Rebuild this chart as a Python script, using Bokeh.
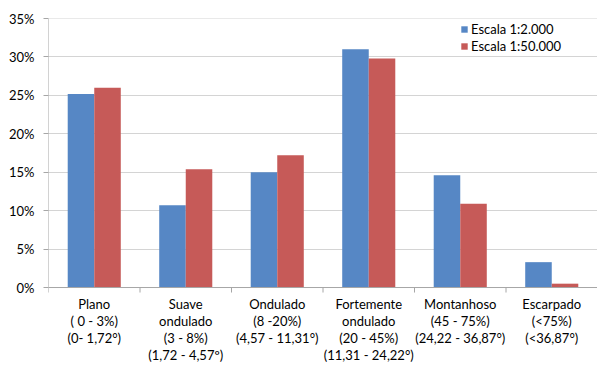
import math
from bokeh.plotting import figure
from bokeh.models import (ColumnDataSource, FixedTicker, NumeralTickFormatter,
                          Legend, LegendItem, Range1d, Label)
from bokeh.embed import file_html
from bokeh.resources import INLINE

# Slope classes and share of area per map scale
categories = ["Plano", "Suave ondulado", "Ondulado", "Fortemente ondulado",
              "Montanhoso", "Escarpado"]
tick_labels = [
    "Plano\n( 0 - 3%)\n(0- 1,72°)",
    "Suave\nondulado\n(3 - 8%)\n(1,72 - 4,57º)",
    "Ondulado\n(8 -20%)\n(4,57 - 11,31°)",
    "Fortemente\nondulado\n(20 - 45%)\n(11,31 - 24,22°)",
    "Montanhoso\n(45 - 75%)\n(24,22 - 36,87°)",
    "Escarpado\n(<75%)\n(<36,87°)",
]
y_ticks = [0.0, 0.05, 0.10, 0.15, 0.20, 0.25, 0.30, 0.35]
series_names = ["Escala 1:2.000", "Escala 1:50.000"]
escala_2000 = [0.252, 0.107, 0.150, 0.310, 0.146, 0.033]
escala_50000 = [0.260, 0.154, 0.172, 0.298, 0.109, 0.005]

BLUE = "#5687C5"
RED = "#C65A58"
AXIS = "#a6a6a6"
FONT = "Lato"

W, H = 597, 365
TOP, BOTTOM_BAND, LEFT = 18, 78, 48
Y_MAX = 0.35
# the frame runs down to the bottom of the canvas; the band below zero
# holds the category texts
plot_px = H - TOP - BOTTOM_BAND
y_min = -BOTTOM_BAND * Y_MAX / plot_px

centers = [i + 0.5 for i in range(len(categories))]
bounds = list(range(len(categories) + 1))
source = ColumnDataSource(dict(
    x1=[c - 0.145 for c in centers],
    x2=[c + 0.145 for c in centers],
    a=escala_2000,
    b=escala_50000,
))

p = figure(width=W, height=H, output_backend="svg", toolbar_location=None,
           x_range=Range1d(0, len(categories)),
           y_range=Range1d(y_min, Y_MAX + 0.0001),
           min_border_left=LEFT, min_border_right=0, min_border_top=TOP,
           min_border_bottom=0)
p.outline_line_color = None
p.background_fill_color = "white"
p.border_fill_color = "white"

# horizontal gridlines
p.ygrid.ticker = FixedTicker(ticks=y_ticks)
p.ygrid.grid_line_color = "#d4d4d4"
p.ygrid.grid_line_width = 1
p.xgrid.grid_line_color = None

r1 = p.vbar(x="x1", top="a", width=0.29, source=source, fill_color=BLUE,
            line_color=None)
r2 = p.vbar(x="x2", top="b", width=0.29, source=source, fill_color=RED,
            line_color=None)

# category axis: baseline, boundary ticks and the y axis line
p.segment(x0=[0, 0], y0=[0, 0], x1=[len(categories), 0], y1=[0, Y_MAX],
          line_color=AXIS, line_width=1)
p.ray(x=bounds, y=[0] * len(bounds), length=5, length_units="screen",
      angle=-math.pi / 2, line_color=AXIS, line_width=1)

p.xaxis.visible = False

# y axis in percent
p.yaxis.ticker = FixedTicker(ticks=y_ticks)
p.yaxis.formatter = NumeralTickFormatter(format="0%")
p.yaxis.axis_line_color = None
p.yaxis.major_tick_line_color = AXIS
p.yaxis.major_tick_out = 5
p.yaxis.major_tick_in = 0
p.yaxis.minor_tick_line_color = None
p.yaxis.major_label_text_font = FONT
p.yaxis.major_label_text_font_size = "13px"
p.yaxis.major_label_text_color = "#000000"
p.yaxis.major_label_standoff = 9

# category texts, one line at a time
LINE_STEP = 17
for c, text in zip(centers, tick_labels):
    for k, line in enumerate(text.split("\n")):
        p.add_layout(Label(x=c, y=BOTTOM_BAND - 16 - LINE_STEP * k,
                           x_units="data", y_units="screen", text=line,
                           text_align="center", text_baseline="middle",
                           text_font=FONT, text_font_size="13px",
                           text_color="#000000"))

legend = Legend(items=[LegendItem(label=series_names[0], renderers=[r1]),
                       LegendItem(label=series_names[1], renderers=[r2])],
                location=(412, 311), orientation="vertical",
                border_line_color=None, background_fill_alpha=0,
                padding=0, margin=0, spacing=1,
                glyph_width=8, glyph_height=8, label_height=14,
                label_standoff=3, label_text_font=FONT,
                label_text_font_size="13px", label_text_color="#000000")
p.add_layout(legend)

open("out.html", "w").write(file_html(p, INLINE))
